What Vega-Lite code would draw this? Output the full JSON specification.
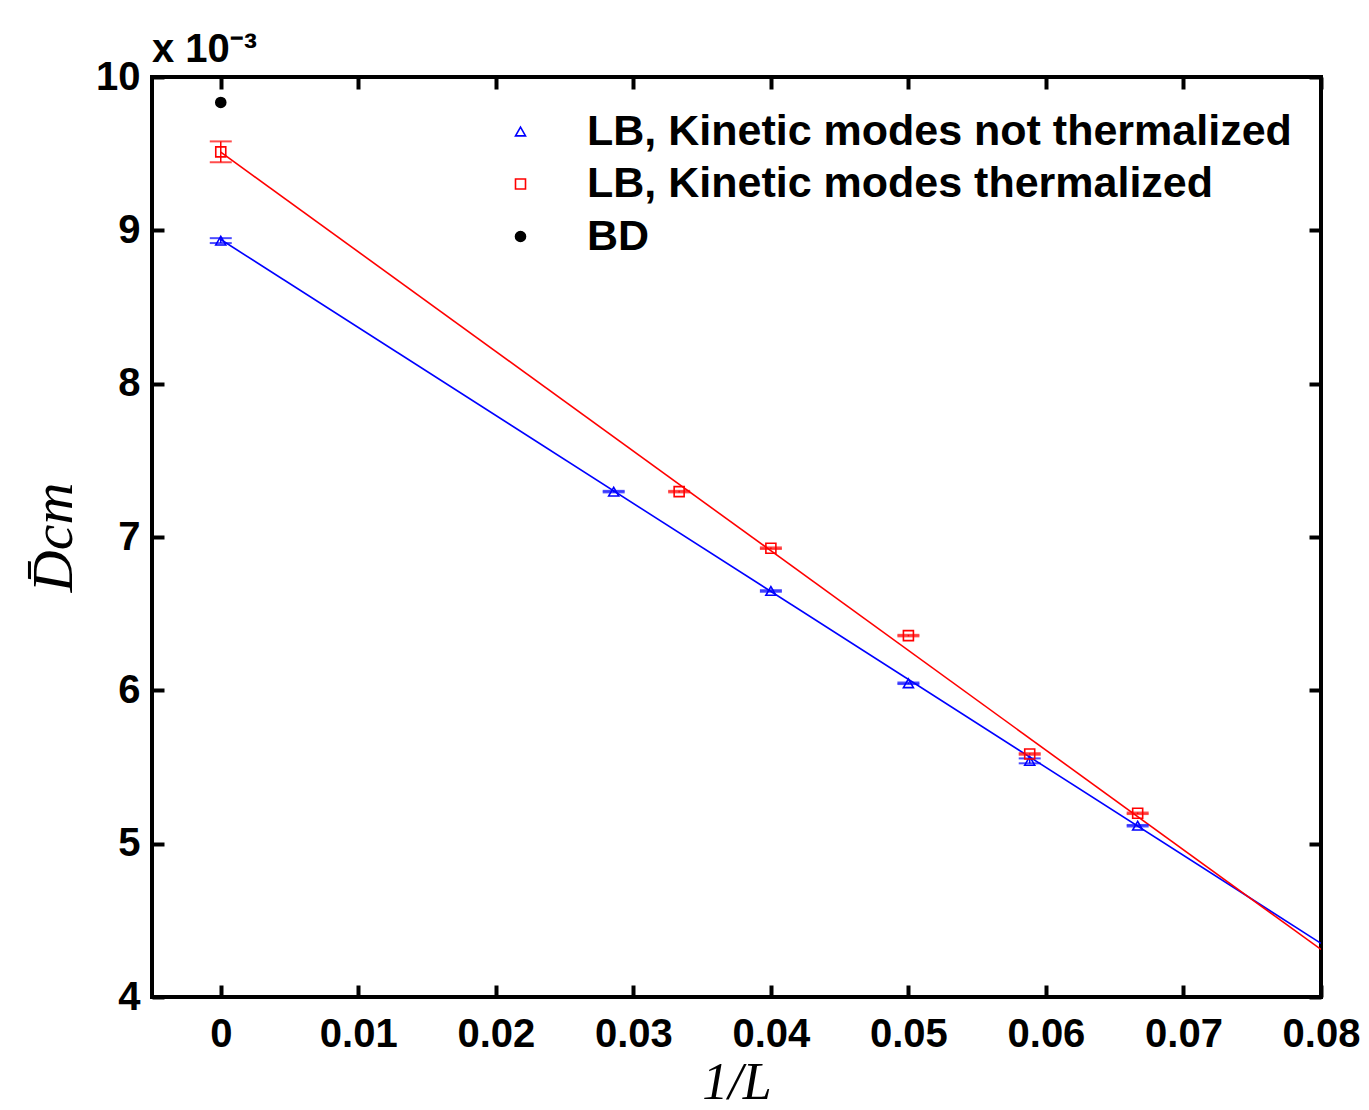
{
  "$schema": "https://vega.github.io/schema/vega-lite/v6.json",
  "width": 1169,
  "height": 920,
  "autosize": {"type": "none"},
  "padding": {"left": 152, "top": 77, "right": 48, "bottom": 113},
  "background": "white",
  "config": {
    "view": {"stroke": "black", "strokeWidth": 4},
    "font": "Liberation Sans"
  },
  "title": {
    "text": "x 10⁻³",
    "anchor": "start",
    "frame": "group",
    "font": "Liberation Sans",
    "fontSize": 40,
    "fontWeight": "bold",
    "offset": -13,
    "color": "black"
  },
  "datasets": {
    "pts": [
      {"series": "LB, Kinetic modes not thermalized", "x": 0, "y": 8.933, "err": 0.016},
      {"series": "LB, Kinetic modes not thermalized", "x": 0.02857, "y": 7.296, "err": 0.005},
      {"series": "LB, Kinetic modes not thermalized", "x": 0.04, "y": 6.648, "err": 0.005},
      {"series": "LB, Kinetic modes not thermalized", "x": 0.05, "y": 6.046, "err": 0.005},
      {"series": "LB, Kinetic modes not thermalized", "x": 0.05882, "y": 5.540, "err": 0.016},
      {"series": "LB, Kinetic modes not thermalized", "x": 0.06667, "y": 5.117, "err": 0.005},
      {"series": "LB, Kinetic modes thermalized", "x": 0, "y": 9.512, "err": 0.068},
      {"series": "LB, Kinetic modes thermalized", "x": 0.03333, "y": 7.296, "err": 0.005},
      {"series": "LB, Kinetic modes thermalized", "x": 0.04, "y": 6.927, "err": 0.005},
      {"series": "LB, Kinetic modes thermalized", "x": 0.05, "y": 6.357, "err": 0.005},
      {"series": "LB, Kinetic modes thermalized", "x": 0.05882, "y": 5.585, "err": 0.005},
      {"series": "LB, Kinetic modes thermalized", "x": 0.06667, "y": 5.198, "err": 0.005},
      {"series": "BD", "x": 0, "y": 9.834, "err": 0}
    ],
    "fits": [
      {"series": "LB, Kinetic modes not thermalized", "x": 0, "y": 8.94},
      {"series": "LB, Kinetic modes not thermalized", "x": 0.08, "y": 4.35},
      {"series": "LB, Kinetic modes thermalized", "x": 0, "y": 9.51},
      {"series": "LB, Kinetic modes thermalized", "x": 0.08, "y": 4.31}
    ]
  },
  "resolve": {"axis": {"x": "independent", "y": "independent"}},
  "layer": [
    {
      "data": {"name": "fits"},
      "transform": [{"filter": "datum.series === 'LB, Kinetic modes not thermalized'"}],
      "mark": {"type": "line", "color": "blue", "strokeWidth": 1.6, "clip": true},
      "encoding": {
        "x": {
          "field": "x", "type": "quantitative",
          "scale": {"domain": [-0.005, 0.08], "nice": false, "zero": false},
          "axis": {
            "orient": "bottom",
            "values": [0, 0.01, 0.02, 0.03, 0.04, 0.05, 0.06, 0.07, 0.08],
            "format": "~g",
            "domain": false, "grid": false,
            "tickSize": -12, "tickWidth": 4, "tickColor": "black",
            "labelFont": "Liberation Sans", "labelFontSize": 40, "labelFontWeight": "bold",
            "labelColor": "black", "labelPadding": 29, "labelFlush": false, "labelOverlap": false,
            "title": "1/L",
            "titleFont": "Liberation Serif", "titleFontStyle": "italic", "titleFontWeight": "normal",
            "titleFontSize": 52, "titleColor": "black", "titlePadding": 3
          }
        },
        "y": {
          "field": "y", "type": "quantitative",
          "scale": {"domain": [4, 10], "nice": false, "zero": false},
          "axis": {
            "orient": "left",
            "values": [4, 5, 6, 7, 8, 9, 10],
            "domain": false, "grid": false,
            "tickSize": -12, "tickWidth": 4, "tickColor": "black",
            "labelFont": "Liberation Sans", "labelFontSize": 40, "labelFontWeight": "bold",
            "labelColor": "black", "labelPadding": 24, "labelFlush": false, "labelOverlap": false,
            "title": "D̄cm",
            "titleFont": "Liberation Serif", "titleFontStyle": "italic", "titleFontWeight": "normal",
            "titleFontSize": 58, "titleColor": "black", "titlePadding": 12
          }
        }
      }
    },
    {
      "data": {"name": "fits"},
      "transform": [{"filter": "datum.series === 'LB, Kinetic modes thermalized'"}],
      "mark": {"type": "line", "color": "red", "strokeWidth": 1.6, "clip": true},
      "encoding": {
        "x": {
          "field": "x", "type": "quantitative",
          "axis": {
            "orient": "top", "values": [0, 0.01, 0.02, 0.03, 0.04, 0.05, 0.06, 0.07, 0.08],
            "labels": false, "domain": false, "grid": false, "title": null,
            "tickSize": -12, "tickWidth": 4, "tickColor": "black"
          }
        },
        "y": {
          "field": "y", "type": "quantitative",
          "axis": {
            "orient": "right", "values": [4, 5, 6, 7, 8, 9, 10],
            "labels": false, "domain": false, "grid": false, "title": null,
            "tickSize": -12, "tickWidth": 4, "tickColor": "black"
          }
        }
      }
    },
    {
      "data": {"name": "pts"},
      "transform": [{"filter": "datum.series === 'LB, Kinetic modes not thermalized'"}],
      "mark": {"type": "errorbar", "color": "blue", "ticks": {"size": 22, "thickness": 2, "color": "blue"}, "rule": {"strokeWidth": 1.5, "color": "blue"}},
      "encoding": {
        "x": {"field": "x", "type": "quantitative", "axis": null},
        "y": {"field": "y", "type": "quantitative", "axis": null},
        "yError": {"field": "err"}
      }
    },
    {
      "data": {"name": "pts"},
      "transform": [{"filter": "datum.series === 'LB, Kinetic modes thermalized'"}],
      "mark": {"type": "errorbar", "color": "red", "ticks": {"size": 22, "thickness": 2, "color": "red"}, "rule": {"strokeWidth": 1.5, "color": "red"}},
      "encoding": {
        "x": {"field": "x", "type": "quantitative", "axis": null},
        "y": {"field": "y", "type": "quantitative", "axis": null},
        "yError": {"field": "err"}
      }
    },
    {
      "data": {"name": "pts"},
      "mark": {"type": "point", "filled": false, "strokeWidth": 1.6, "size": 100, "opacity": 1},
      "encoding": {
        "x": {"field": "x", "type": "quantitative", "axis": null},
        "y": {"field": "y", "type": "quantitative", "axis": null},
        "color": {
          "field": "series", "type": "nominal",
          "scale": {"domain": ["LB, Kinetic modes not thermalized", "LB, Kinetic modes thermalized", "BD"], "range": ["blue", "red", "black"]},
          "legend": {
            "title": null, "orient": "none", "legendX": 347, "legendY": 33,
            "padding": 0, "labelFont": "Liberation Sans", "labelFontSize": 43, "labelFontWeight": "bold",
            "labelColor": "black", "labelOffset": 45, "labelLimit": 0, "rowPadding": 8.5,
            "symbolSize": 100, "symbolStrokeWidth": 1.6
          }
        },
        "shape": {
          "field": "series", "type": "nominal",
          "scale": {"domain": ["LB, Kinetic modes not thermalized", "LB, Kinetic modes thermalized", "BD"], "range": ["triangle-up", "square", "circle"]}
        },
        "fill": {
          "field": "series", "type": "nominal",
          "scale": {"domain": ["LB, Kinetic modes not thermalized", "LB, Kinetic modes thermalized", "BD"], "range": ["transparent", "transparent", "black"]}
        }
      }
    }
  ]
}
